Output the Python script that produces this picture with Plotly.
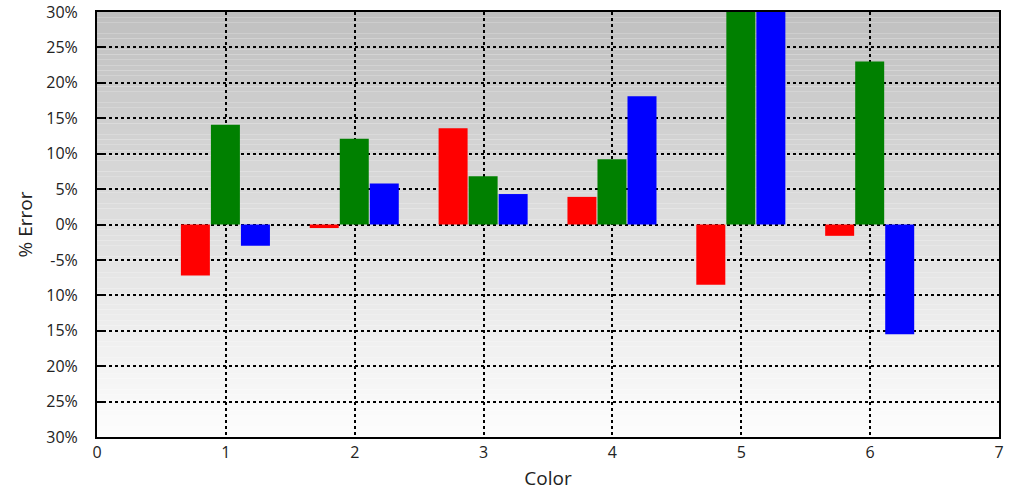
import plotly.graph_objects as go

categories = [1, 2, 3, 4, 5, 6]
red_vals = [-7.2, -0.5, 13.6, 3.9, -8.5, -1.6]
green_vals = [14.1, 12.1, 6.8, 9.2, 32.0, 23.0]
blue_vals = [-3.0, 5.8, 4.3, 18.1, 32.0, -15.5]

y_tickvals = [30, 25, 20, 15, 10, 5, 0, -5, -10, -15, -20, -25, -30]
y_ticktext = ["30%", "25%", "20%", "15%", "10%", "5%", "0%", "-5%", "10%", "15%", "20%", "25%", "30%"]
x_tickvals = [0, 1, 2, 3, 4, 5, 6, 7]

fig = go.Figure()
series = [("red", red_vals, "#ff0000", -0.349),
          ("green", green_vals, "#008000", -0.116),
          ("blue", blue_vals, "#0000ff", 0.117)]
for name, vals, col, off in series:
    fig.add_trace(go.Bar(x=categories, y=vals, name=name, marker=dict(color=col, line=dict(width=0)),
                         width=0.225, offset=off, showlegend=False))

# vertical gradient background
n = 80
shapes = []
top = (0xc0, 0xc0, 0xc0)
bot = (0xfd, 0xfd, 0xfd)
for i in range(n):
    t = i / (n - 1)
    c = tuple(int(round(top[k] + (bot[k] - top[k]) * t)) for k in range(3))
    shapes.append(dict(type="rect", xref="paper", yref="paper", x0=0, x1=1,
                       y0=1 - (i + 1) / n, y1=1 - i / n, fillcolor="rgb(%d,%d,%d)" % c,
                       line=dict(width=0), layer="below"))

font = "Open Sans, Noto Sans, sans-serif"
fig.update_layout(
    width=1024, height=491,
    margin=dict(l=97, r=25, t=12, b=54),
    paper_bgcolor="white", plot_bgcolor="rgba(0,0,0,0)",
    barmode="group",
    shapes=shapes,
    font=dict(family=font, size=16, color="#222"),
    xaxis=dict(range=[0, 7], tickvals=x_tickvals, showgrid=True, gridcolor="black", griddash="dot",
               gridwidth=2, showline=True, linecolor="black", linewidth=2, mirror=True,
               zeroline=False, ticks="", title=dict(text="Color", standoff=9), automargin=False,
               tickfont=dict(size=16)),
    yaxis=dict(range=[-30, 30], tickvals=y_tickvals, ticktext=y_ticktext, showgrid=True,
               gridcolor="black", griddash="dot", gridwidth=2, showline=True, linecolor="black",
               linewidth=2, mirror=True, zeroline=False, ticks="inside", ticklen=6, tickwidth=2,
               tickcolor="black", ticklabelstandoff=14, ticklabeloverflow="allow",
               title=dict(text="% Error", standoff=9), automargin=False,
               tickfont=dict(size=16)),
)

fig.write_html("out.html", config={"displayModeBar": False},
               post_script="document.body.style.margin='0';")
